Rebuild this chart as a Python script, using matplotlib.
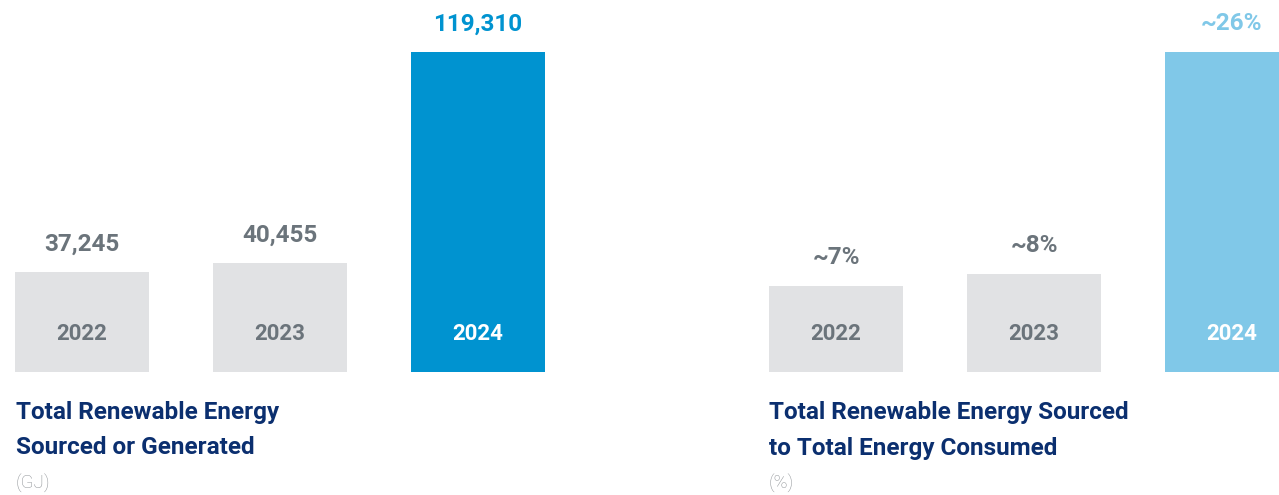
import numpy as np
import matplotlib
matplotlib.use("Agg")
import matplotlib.pyplot as plt

plt.rcParams['font.family'] = ['Roboto', 'DejaVu Sans']

years = ['2022', '2023', '2024']
energy_gj = [37245, 40455, 119310]
energy_labels = ['37,245', '40,455', '119,310']
share_pct = [7, 8, 26]
share_labels = ['~7%', '~8%', '~26%']

GREY_BAR = '#e1e2e4'
GREY_TXT = '#6b747b'
NAVY = '#0b2f6f'
UNIT_GREY = '#8f9397'

W, H = 1279, 495
fig = plt.figure(figsize=(W / 100, H / 100), dpi=100)

bar_w = 134 / 198


def px_ax(x0, x1, ytop, ybot):
    return fig.add_axes([x0 / W, (H - ybot) / H, (x1 - x0) / W, (ybot - ytop) / H])


def panel(ax, values, labels, accent, ymax):
    x = np.arange(len(values))
    colors = [GREY_BAR] * (len(values) - 1) + [accent]
    ax.bar(x, values, width=bar_w, color=colors, linewidth=0)
    ax.set_xlim(-bar_w / 2, x[-1] + bar_w / 2)
    ax.set_ylim(0, ymax)
    ax.axis('off')
    for i, (v, lab) in enumerate(zip(values, labels)):
        last = i == len(values) - 1
        ax.annotate(lab, (i, v), xytext=(0, 15.5), textcoords='offset points',
                    ha='center', va='baseline', fontsize=17.5, fontweight='bold',
                    color=accent if last else GREY_TXT, annotation_clip=False)
        ax.annotate(years[i], (i, 0), xytext=(0, 23), textcoords='offset points',
                    ha='center', va='baseline', fontsize=16, fontweight='bold',
                    color='white' if last else GREY_TXT, annotation_clip=False)


ax1 = px_ax(15, 545, 52, 372)
panel(ax1, energy_gj, energy_labels, '#0093d0', max(energy_gj))

ax2 = px_ax(769, 1299, 52, 372)
panel(ax2, share_pct, share_labels, '#80c8e8', max(share_pct))

# titles and units under each panel
for x0, l1, l2, unit in [(16, 'Total Renewable Energy', 'Sourced or Generated', '(GJ)'),
                         (769, 'Total Renewable Energy Sourced', 'to Total Energy Consumed', '(%)')]:
    fig.text(x0 / W, (H - 419.5) / H, l1, fontsize=17.5, fontweight='bold', color=NAVY, va='baseline')
    fig.text(x0 / W, (H - 454.5) / H, l2, fontsize=17.5, fontweight='bold', color=NAVY, va='baseline')
    fig.text(x0 / W, (H - 489) / H, unit, fontsize=13.5, fontweight='light', color=UNIT_GREY, va='baseline')

fig.savefig('out.png', dpi=100)
